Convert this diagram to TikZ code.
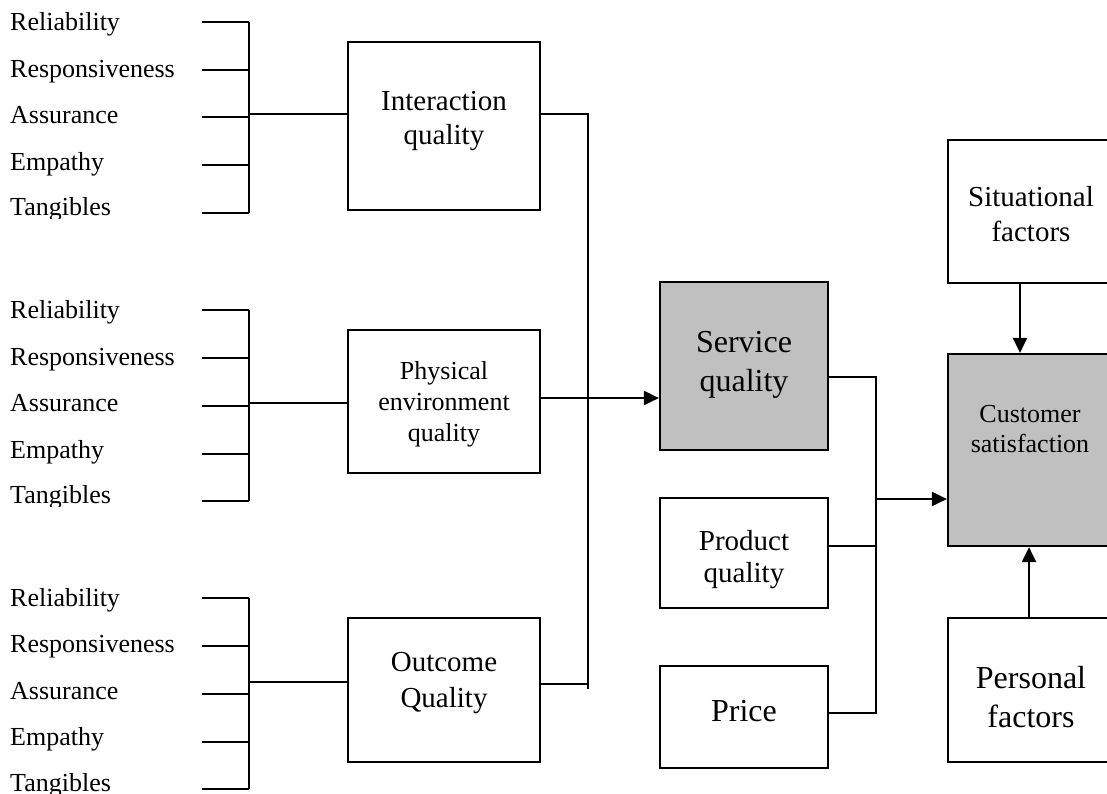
\documentclass[tikz,border=0pt]{standalone}
\usepackage{fontspec}
\setmainfont{Liberation Serif}
\usetikzlibrary{arrows.meta}
\definecolor{boxgray}{HTML}{C0C0C0}
\begin{document}
\begin{tikzpicture}[x=1pt,y=-1pt,
  box/.style={draw, line width=2.2pt, inner sep=0pt},
  shaded/.style={box, fill=boxgray},
  wire/.style={line width=2.2pt},
  arr/.style={wire, -{Triangle[length=15pt,width=14pt]}},
  lbl/.style={anchor=base west, inner sep=0pt, font=\fontsize{26}{30}\selectfont},
  txt/.style={align=center, inner sep=0pt}
]
\useasboundingbox (0,0) rectangle (1107,793);
\clip (0,0) rectangle (1107,793);

% ---------- boxes ----------
\node[box, minimum width=192pt, minimum height=168pt] (iq) at (444,126) {};
\node[box, minimum width=192pt, minimum height=143pt] (pe) at (444,401.5) {};
\node[box, minimum width=192pt, minimum height=144pt] (oq) at (444,690) {};
\node[shaded, minimum width=168pt, minimum height=168pt] (sq) at (744,366) {};
\node[box, minimum width=168pt, minimum height=110pt] (pq) at (744,553) {};
\node[box, minimum width=168pt, minimum height=102pt] (pr) at (744,717) {};
\node[box, minimum width=164pt, minimum height=143pt] (sf) at (1030,211.5) {};
\node[shaded, minimum width=164pt, minimum height=192pt] (cs) at (1030,450) {};
\node[box, minimum width=164pt, minimum height=144pt] (pf) at (1030,690) {};

% ---------- box texts ----------
\node[txt, font=\fontsize{29}{34}\selectfont] (iqt) at (444,121.5) {Interaction\\quality};
\node[txt, font=\fontsize{26}{31}\selectfont] (pet) at (444,404.5) {Physical\\environment\\quality};
\node[txt, font=\fontsize{29}{36}\selectfont] (oqt) at (444,683) {Outcome\\Quality};
\node[txt, font=\fontsize{32}{39}\selectfont] (sqt) at (744,365) {Service\\quality};
\node[txt, font=\fontsize{29}{32}\selectfont] (pqt) at (744,560) {Product\\quality};
\node[txt, font=\fontsize{32}{38}\selectfont] (prt) at (744,711.5) {Price};
\node[txt, font=\fontsize{29}{35}\selectfont] (sft) at (1031,214.5) {Situational\\factors};
\node[txt, font=\fontsize{26}{30}\selectfont] (cst) at (1030,429.5) {Customer\\satisfaction};
\node[txt, font=\fontsize{32}{39}\selectfont] (pft) at (1031,697.5) {Personal\\factors};

% ---------- dimension labels and brackets ----------
\begin{scope}
  \clip (0,0) rectangle (200,218);
  \node[lbl] (a1) at (10,30)    {Reliability};
  \node[lbl] (a2) at (10,77)    {Responsiveness};
  \node[lbl] (a3) at (10,123.5) {Assurance};
  \node[lbl] (a4) at (10,170)   {Empathy};
  \node[lbl] (a5) at (10,215.5) {Tangibles};
\end{scope}
\begin{scope}
  \clip (0,290) rectangle (200,506);
  \node[lbl] (b1) at (10,318.5) {Reliability};
  \node[lbl] (b2) at (10,365)   {Responsiveness};
  \node[lbl] (b3) at (10,411.5) {Assurance};
  \node[lbl] (b4) at (10,458)   {Empathy};
  \node[lbl] (b5) at (10,503.5) {Tangibles};
\end{scope}
\node[lbl] (c1) at (10,606)   {Reliability};
\node[lbl] (c2) at (10,652.5) {Responsiveness};
\node[lbl] (c3) at (10,699)   {Assurance};
\node[lbl] (c4) at (10,745.5) {Empathy};
\node[lbl] (c5) at (10,791)   {Tangibles};

% bracket ticks
\foreach \y in {22,70,117,165,213, 310,358,406,454,501, 598,646,694,742,789}
  \draw[wire] (202,\y) -- (249,\y);
\draw[wire] (249,22) -- (249,213);
\draw[wire] (249,310) -- (249,501);
\draw[wire] (249,598) -- (249,789);

% bracket joints to the quality boxes
\coordinate (ja) at (249,114);
\coordinate (jb) at (249,403);
\coordinate (jc) at (249,682);
\draw[wire] (ja) -- (ja -| iq.west);
\draw[wire] (jb) -- (jb -| pe.west);
\draw[wire] (jc) -- (jc -| oq.west);

% ---------- collector towards service quality ----------
\coordinate (ka) at (588,114);
\coordinate (kc) at (588,684);
\coordinate (kb) at (588,398);
\draw[wire] (ka -| iq.east) -- (ka) -- (588,689);
\draw[wire] (kc -| oq.east) -- (kc);
\draw[arr] (kb -| pe.east) -- (kb -| sq.west);

% ---------- collector towards customer satisfaction ----------
\coordinate (ma) at (876,377);
\coordinate (mb) at (876,546);
\coordinate (mc) at (876,713);
\coordinate (md) at (876,499);
\draw[wire] (ma -| sq.east) -- (ma) -- (876,714);
\draw[wire] (mb -| pq.east) -- (mb);
\draw[wire] (mc -| pr.east) -- (mc);
\draw[arr] (md) -- (md -| cs.west);

% ---------- influences on satisfaction ----------
\draw[arr] (1020,0 |- sf.south) -- (1020,0 |- cs.north);
\draw[arr] (1029,0 |- pf.north) -- (1029,0 |- cs.south);
\end{tikzpicture}
\end{document}
